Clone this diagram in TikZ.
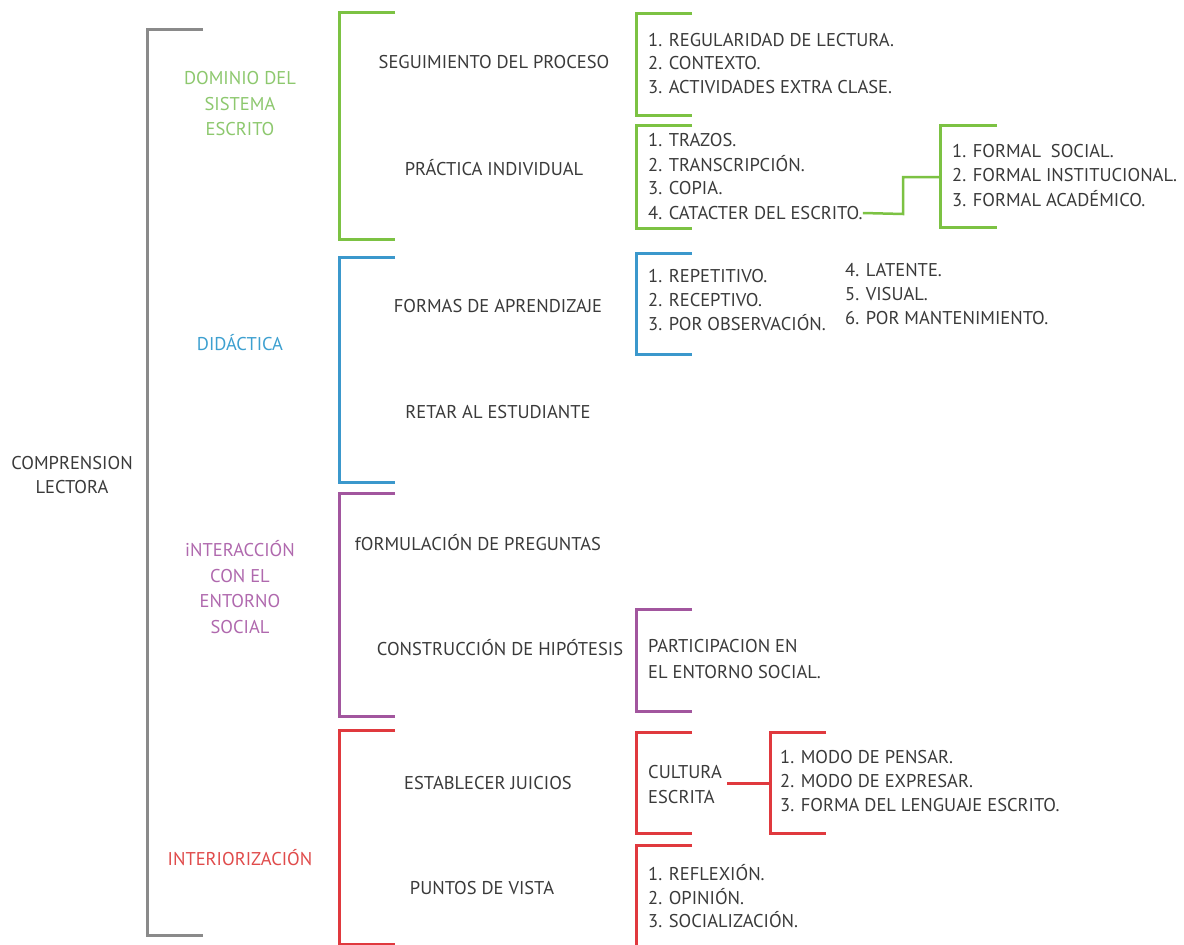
\documentclass[tikz,border=0pt]{standalone}
\usepackage{fontspec}
\setmainfont{PT Sans}
\definecolor{txt}{HTML}{3A3A3A}
\definecolor{grayl}{HTML}{8A8A8A}
\definecolor{greenl}{HTML}{7CC243}
\definecolor{greent}{HTML}{8DC86E}
\definecolor{bluel}{HTML}{3B98CC}
\definecolor{bluet}{HTML}{3DA0D0}
\definecolor{purpl}{HTML}{A2569E}
\definecolor{purpt}{HTML}{B069AE}
\definecolor{redl}{HTML}{E0393E}
\definecolor{redt}{HTML}{E04B4B}
\newcommand\mybrk[5]{\draw[brk,#1] (#2+#5,#3) -- (#2,#3) -- (#2,#4) -- (#2+#5,#4);}
\begin{document}
\begin{tikzpicture}[x=1pt,y=-1pt,
  lbl/.style={font=\fontsize{18.5}{25.5}\selectfont, text=txt, inner sep=0pt, align=center},
  itm/.style={font=\fontsize{18.5}{24}\selectfont, text=txt, inner sep=0pt, anchor=west},
  brk/.style={line width=3pt, line cap=butt, line join=miter},
  conn/.style={line width=3pt, line cap=butt, line join=miter}]
\useasboundingbox[fill=white] (0,0) rectangle (1184,945);

% brackets
\mybrk{grayl}{147}{29}{935}{56}
\mybrk{greenl}{339}{12}{239}{56}
\mybrk{bluel}{339}{257}{482}{56}
\mybrk{purpl}{339}{493}{716}{56}
\mybrk{redl}{339}{730}{944}{56}
\mybrk{greenl}{636}{13}{115}{56}
\mybrk{greenl}{636}{125}{228}{56}
\mybrk{bluel}{636}{253}{354}{56}
\mybrk{purpl}{636}{609}{711}{56}
\mybrk{redl}{636}{732}{833}{56}
\mybrk{redl}{636}{845}{946}{56}
\mybrk{greenl}{940}{125}{227}{57}
\mybrk{redl}{770}{732}{833}{56}

% root
\node[lbl,font=\fontsize{18.5}{24}\selectfont] (root) at (72,475) {COMPRENSION\\LECTORA};

% level 1
\node[lbl,text=greent] (dom) at (240,104) {DOMINIO DEL\\SISTEMA\\ESCRITO};
\node[lbl,text=bluet] (did) at (240,343) {DIDÁCTICA};
\node[lbl,text=purpt] (int) at (240,587) {iNTERACCIÓN\\CON EL\\ENTORNO\\SOCIAL};
\node[lbl,text=redt] (inter) at (240,858) {INTERIORIZACIÓN};

% level 2
\node[lbl] (seg) at (494,62) {SEGUIMIENTO DEL PROCESO};
\node[lbl] (pra) at (494,168) {PRÁCTICA INDIVIDUAL};
\node[lbl] (for) at (498,306) {FORMAS DE APRENDIZAJE};
\node[lbl] (ret) at (498,412) {RETAR AL ESTUDIANTE};
\node[lbl] (fmp) at (478,543) {fORMULACIÓN DE PREGUNTAS};
\node[lbl] (con) at (500,648) {CONSTRUCCIÓN DE HIPÓTESIS};
\node[lbl] (est) at (488,783) {ESTABLECER JUICIOS};
\node[lbl] (pun) at (482,888) {PUNTOS DE VISTA};

% level 3 lists
\node[itm] (s1) at (648,40) {1. REGULARIDAD DE LECTURA.};
\node[itm] (s2) at (648,63) {2. CONTEXTO.};
\node[itm] (s3) at (648,87) {3. ACTIVIDADES EXTRA CLASE.};

\node[itm] (p1) at (648,140) {1. TRAZOS.};
\node[itm] (p2) at (648,164) {2. TRANSCRIPCIÓN.};
\node[itm] (p3) at (648,188) {3. COPIA.};
\node[itm] (p4) at (648,213) {4. CATACTER DEL ESCRITO.};

\node[itm] (f1) at (648,276) {1. REPETITIVO.};
\node[itm] (f2) at (648,300) {2. RECEPTIVO.};
\node[itm] (f3) at (648,323) {3. POR OBSERVACIÓN.};
\node[itm] (f4) at (845,270) {4. LATENTE.};
\node[itm] (f5) at (845,294) {5. VISUAL.};
\node[itm] (f6) at (845,318) {6. POR MANTENIMIENTO.};

\node[itm] (c1) at (648,646) {PARTICIPACION EN};
\node[itm] (c2) at (648,672) {EL ENTORNO SOCIAL.};

\node[itm] (e1) at (648,772) {CULTURA};
\node[itm] (e2) at (648,797) {ESCRITA};

\node[itm] (v1) at (648,873) {1. REFLEXIÓN.};
\node[itm] (v2) at (648,897) {2. OPINIÓN.};
\node[itm] (v3) at (648,920) {3. SOCIALIZACIÓN.};

% level 4
\node[itm] (k1) at (952,151) {1. FORMAL\ \ SOCIAL.};
\node[itm] (k2) at (952,175) {2. FORMAL INSTITUCIONAL.};
\node[itm] (k3) at (952,199) {3. FORMAL ACADÉMICO.};

\node[itm] (m1) at (780,757) {1. MODO DE PENSAR.};
\node[itm] (m2) at (780,781) {2. MODO DE EXPRESAR.};
\node[itm] (m3) at (780,805) {3. FORMA DEL LENGUAJE ESCRITO.};

% connectors
\coordinate (gk) at (940,177);
\coordinate (rs) at (727,783);
\coordinate (rm) at (770,783);
\draw[conn,greenl,line width=2.5pt] (p4.east) -- (903,214) -- (903,177) -- (gk);
\draw[conn,redl] (rs) -- (rm);
\end{tikzpicture}
\end{document}
